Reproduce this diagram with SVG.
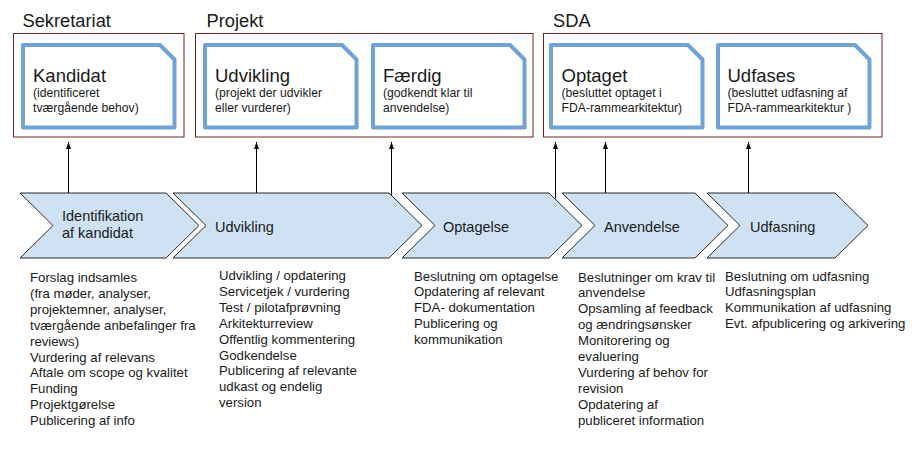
<svg xmlns="http://www.w3.org/2000/svg" width="924" height="449" viewBox="0 0 924 449">
<style>
text{font-family:"Liberation Sans",Arial,sans-serif;fill:#1a1a1a}
.hdr{font-size:18.3px}
.frame{fill:none;stroke:#7a2020;stroke-width:1}
.card{fill:#fff;stroke:#6fa3d8;stroke-width:4;stroke-linejoin:round}
.ttl{font-size:18.5px}
.sub{font-size:12.2px}
.chev{fill:#cfe2f3;stroke:#2a2a2a;stroke-width:1}
.clbl{font-size:14.5px}
.lst{font-size:13.2px}
.conn{stroke:#000;stroke-width:1;fill:none;marker-end:url(#ah)}
</style>
<defs>
<marker id="ah" markerUnits="userSpaceOnUse" markerWidth="7" markerHeight="6" refX="7" refY="2.5" orient="auto" viewBox="0 0 7 5">
<path d="M0,0 L7,2.5 L0,5 z" fill="#000"/>
</marker>
</defs>
<rect width="924" height="449" fill="#fff"/>

<g id="sekretariat">
<text class="hdr" x="22.5" y="27">Sekretariat</text>
<rect class="frame" x="13.5" y="33.5" width="170.5" height="103.5"/>
</g>
<g id="projekt">
<text class="hdr" x="206.5" y="27">Projekt</text>
<rect class="frame" x="195.5" y="33.5" width="337.5" height="103.5"/>
</g>
<g id="sda">
<text class="hdr" x="553" y="27">SDA</text>
<rect class="frame" x="543.5" y="33.5" width="338.5" height="103.5"/>
</g>

<g id="card-kandidat">
<path class="card" d="M23,45 H160 L174.5,59.5 V127.5 H23 Z"/>
<text class="ttl" x="33" y="82">Kandidat</text>
<text class="sub" x="33" y="97">(identificeret</text>
<text class="sub" x="33" y="111.5">tværgående behov)</text>
</g>
<g id="card-udvikling">
<path class="card" d="M205,45 H342 L356.5,59.5 V127.5 H205 Z"/>
<text class="ttl" x="215" y="82">Udvikling</text>
<text class="sub" x="215" y="97">(projekt der udvikler</text>
<text class="sub" x="215" y="111.5">eller vurderer)</text>
</g>
<g id="card-faerdig">
<path class="card" d="M373,45 H510 L524.5,59.5 V127.5 H373 Z"/>
<text class="ttl" x="383" y="82">Færdig</text>
<text class="sub" x="383" y="97">(godkendt klar til</text>
<text class="sub" x="383" y="111.5">anvendelse)</text>
</g>
<g id="card-optaget">
<path class="card" d="M551,45 H688 L702.5,59.5 V127.5 H551 Z"/>
<text class="ttl" x="561.5" y="82">Optaget</text>
<text class="sub" x="561.5" y="97">(besluttet optaget i</text>
<text class="sub" x="561.5" y="111.5">FDA-rammearkitektur)</text>
</g>
<g id="card-udfases">
<path class="card" d="M718,45 H855 L869.5,59.5 V127.5 H718 Z"/>
<text class="ttl" x="727.5" y="82">Udfases</text>
<text class="sub" x="727.5" y="97">(besluttet udfasning af</text>
<text class="sub" x="727.5" y="111.5">FDA-rammearkitektur )</text>
</g>

<g id="chev-identifikation">
<polygon class="chev" points="20,193 166,193 199,225.5 166,258 20,258 53,225.5"/>
<text class="clbl" x="62" y="221">Identifikation</text>
<text class="clbl" x="62" y="238">af kandidat</text>
</g>
<g id="chev-udvikling">
<polygon class="chev" points="173,193 389,193 422,225.5 389,258 173,258 206,225.5"/>
<text class="clbl" x="215" y="231.5">Udvikling</text>
</g>
<g id="chev-optagelse">
<polygon class="chev" points="402,193 549,193 582,225.5 549,258 402,258 435,225.5"/>
<text class="clbl" x="443" y="231.5">Optagelse</text>
</g>
<g id="chev-anvendelse">
<polygon class="chev" points="562,193 695,193 728,225.5 695,258 562,258 595,225.5"/>
<text class="clbl" x="604" y="231.5">Anvendelse</text>
</g>
<g id="chev-udfasning">
<polygon class="chev" points="707,193 835,193 868,225.5 835,258 707,258 740,225.5"/>
<text class="clbl" x="750" y="231.5">Udfasning</text>
</g>

<g id="connectors">
<line class="conn" x1="68.5" y1="193" x2="68.5" y2="142"/>
<line class="conn" x1="256.5" y1="193" x2="256.5" y2="142"/>
<line class="conn" x1="391.5" y1="195.5" x2="391.5" y2="142"/>
<line class="conn" x1="555.5" y1="198.5" x2="555.5" y2="142"/>
<line class="conn" x1="605.5" y1="193" x2="605.5" y2="142"/>
<line class="conn" x1="748.5" y1="193" x2="748.5" y2="142"/>
</g>

<g id="list-identifikation">
<text class="lst" x="30" y="282">
<tspan x="30">Forslag indsamles</tspan>
<tspan x="30" dy="15.9">(fra møder, analyser,</tspan>
<tspan x="30" dy="15.9">projektemner, analyser,</tspan>
<tspan x="30" dy="15.9">tværgående anbefalinger fra</tspan>
<tspan x="30" dy="15.9">reviews)</tspan>
<tspan x="30" dy="15.9">Vurdering af relevans</tspan>
<tspan x="30" dy="15.9">Aftale om scope og kvalitet</tspan>
<tspan x="30" dy="15.9">Funding</tspan>
<tspan x="30" dy="15.9">Projektgørelse</tspan>
<tspan x="30" dy="15.9">Publicering af info</tspan>
</text>
</g>
<g id="list-udvikling">
<text class="lst" x="219" y="280">
<tspan x="219">Udvikling / opdatering</tspan>
<tspan x="219" dy="15.9">Servicetjek / vurdering</tspan>
<tspan x="219" dy="15.9">Test / pilotafprøvning</tspan>
<tspan x="219" dy="15.9">Arkitekturreview</tspan>
<tspan x="219" dy="15.9">Offentlig kommentering</tspan>
<tspan x="219" dy="15.9">Godkendelse</tspan>
<tspan x="219" dy="15.9">Publicering af relevante</tspan>
<tspan x="219" dy="15.9">udkast og endelig</tspan>
<tspan x="219" dy="15.9">version</tspan>
</text>
</g>
<g id="list-optagelse">
<text class="lst" x="414" y="280.5">
<tspan x="414">Beslutning om optagelse</tspan>
<tspan x="414" dy="15.8">Opdatering af relevant</tspan>
<tspan x="414" dy="15.8">FDA- dokumentation</tspan>
<tspan x="414" dy="15.8">Publicering og</tspan>
<tspan x="414" dy="15.8">kommunikation</tspan>
</text>
</g>
<g id="list-anvendelse">
<text class="lst" x="578" y="281.5">
<tspan x="578">Beslutninger om krav til</tspan>
<tspan x="578" dy="15.9">anvendelse</tspan>
<tspan x="578" dy="15.9">Opsamling af feedback</tspan>
<tspan x="578" dy="15.9">og ændringsønsker</tspan>
<tspan x="578" dy="15.9">Monitorering og</tspan>
<tspan x="578" dy="15.9">evaluering</tspan>
<tspan x="578" dy="15.9">Vurdering af behov for</tspan>
<tspan x="578" dy="15.9">revision</tspan>
<tspan x="578" dy="15.9">Opdatering af</tspan>
<tspan x="578" dy="15.9">publiceret information</tspan>
</text>
</g>
<g id="list-udfasning">
<text class="lst" x="725" y="280.5">
<tspan x="725">Beslutning om udfasning</tspan>
<tspan x="725" dy="15.9">Udfasningsplan</tspan>
<tspan x="725" dy="15.9">Kommunikation af udfasning</tspan>
<tspan x="725" dy="15.9">Evt. afpublicering og arkivering</tspan>
</text>
</g>
</svg>
